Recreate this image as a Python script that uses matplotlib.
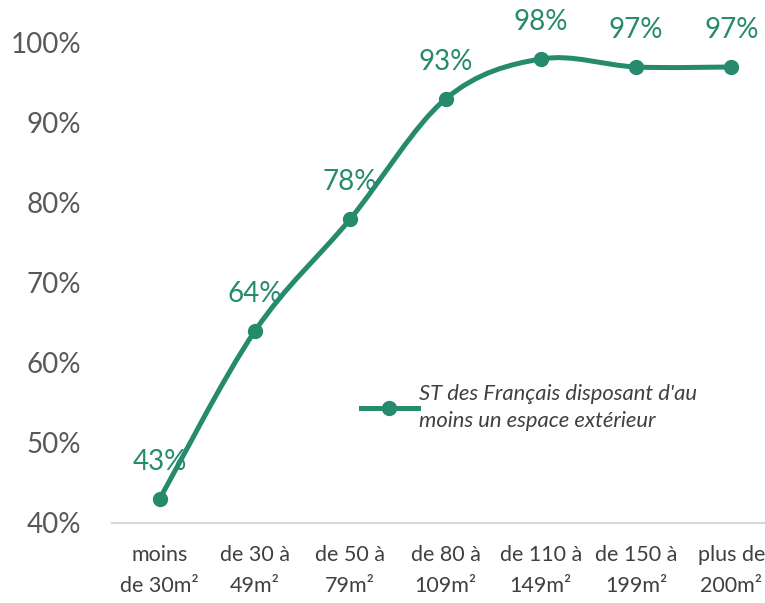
import matplotlib
matplotlib.use("Agg")
import matplotlib.pyplot as plt
from matplotlib.path import Path
from matplotlib.patches import PathPatch
from matplotlib.lines import Line2D
import matplotlib.ticker as ticker

# données
categories = ["moins\nde 30m²", "de 30 à\n49m²", "de 50 à\n79m²", "de 80 à\n109m²",
              "de 110 à\n149m²", "de 150 à\n199m²", "plus de\n200m²"]
valeurs = [0.43, 0.64, 0.78, 0.93, 0.98, 0.97, 0.97]
serie = "ST des Français disposant d'au\nmoins un espace extérieur"

vert = "#268A6D"
gris = "#595959"
plt.rcParams['font.family'] = ['Lato', 'DejaVu Sans']

fig = plt.figure(figsize=(7.65, 6.03), dpi=100)
ax = fig.add_axes([0.1464, 0.1327, 0.872, 0.796])

xs = list(range(len(valeurs)))

# courbe lissée (bezier, comme la ligne lissée d'Excel)
verts = [(xs[0], valeurs[0])]
codes = [Path.MOVETO]
n = len(xs)
for i in range(n - 1):
    p0 = (xs[max(i - 1, 0)], valeurs[max(i - 1, 0)])
    p1 = (xs[i], valeurs[i])
    p2 = (xs[i + 1], valeurs[i + 1])
    p3 = (xs[min(i + 2, n - 1)], valeurs[min(i + 2, n - 1)])
    c1 = (p1[0] + (p2[0] - p0[0]) / 6, p1[1] + (p2[1] - p0[1]) / 6)
    c2 = (p2[0] - (p3[0] - p1[0]) / 6, p2[1] - (p3[1] - p1[1]) / 6)
    verts += [c1, c2, p2]
    codes += [Path.CURVE4] * 3
ax.add_patch(PathPatch(Path(verts, codes), facecolor="none", edgecolor=vert,
                       lw=3.6, capstyle="round", joinstyle="round", zorder=3))
ax.plot(xs, valeurs, "o", color=vert, markersize=10, zorder=4)

for x, v in zip(xs, valeurs):
    ax.annotate(f"{round(v * 100)}%", (x, v), xytext=(0, 26.5), textcoords="offset points",
                ha="center", va="center", color=vert, fontsize=20, clip_on=False)

ax.set_xlim(-0.5, n - 0.5)
ax.set_ylim(0.4, 1.0)
ax.yaxis.set_major_locator(ticker.MultipleLocator(0.1))
ax.yaxis.set_major_formatter(ticker.FuncFormatter(lambda v, p: f"{round(v * 100)}%"))
ax.set_xticks(xs)
ax.set_xticklabels(categories, fontsize=15.5, color="#404040", linespacing=1.7)
ax.tick_params(axis="y", labelsize=20, colors=gris, length=0, pad=22)
ax.tick_params(axis="x", length=0, pad=16)

for s in ["top", "right", "left"]:
    ax.spines[s].set_visible(False)
ax.spines["bottom"].set_color("#D9D9D9")
ax.spines["bottom"].set_linewidth(1.5)

poignee = Line2D([], [], color=vert, lw=3.6, marker="o", markersize=10)
leg = ax.legend([poignee], [serie], loc="center left", bbox_to_anchor=(0.343, 0.24),
                frameon=False, handlelength=2.6, handletextpad=0.05,
                prop={"style": "italic", "size": 15.8})
for t in leg.get_texts():
    t.set_color("#404040")
    t.set_linespacing(1.45)

fig.savefig("out.png", dpi=100)
